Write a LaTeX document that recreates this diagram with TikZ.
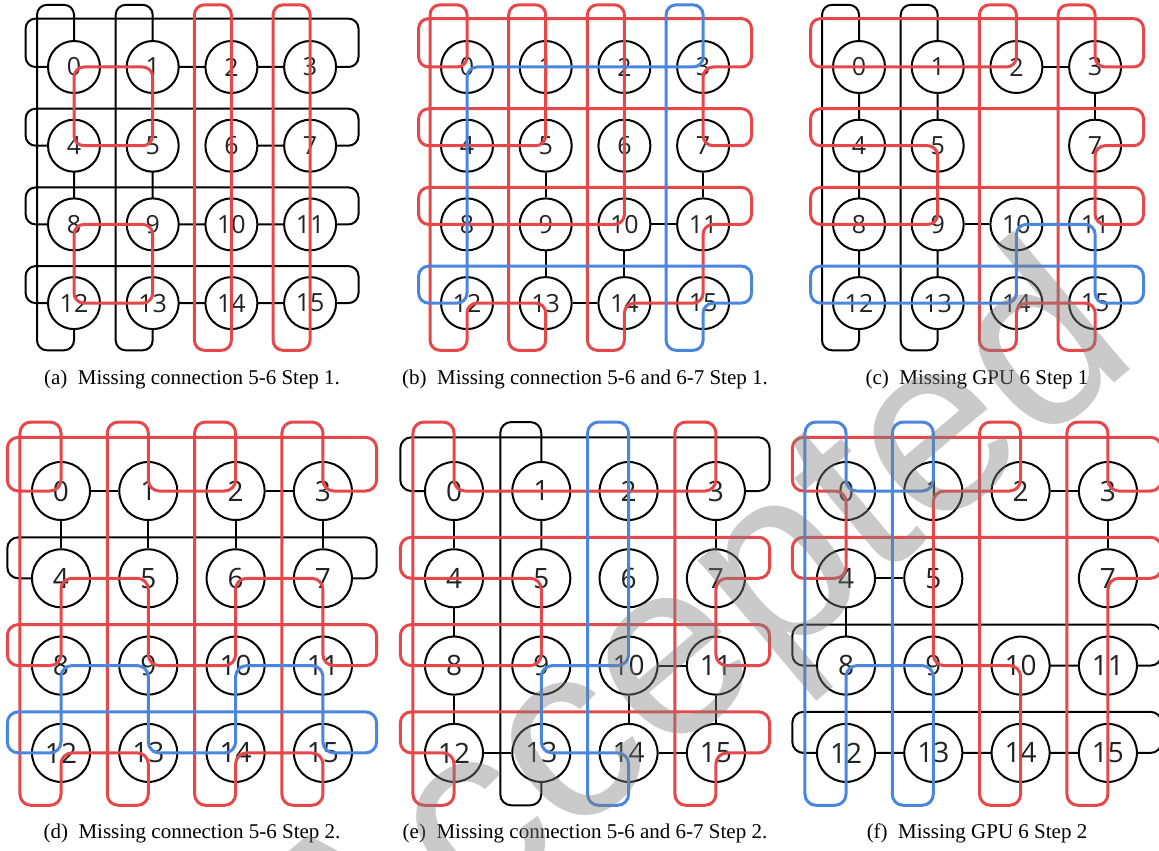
\documentclass[tikz,border=0pt]{standalone}
\usepackage{fontspec}
\setmainfont{Liberation Serif}
\newfontfamily\labfont{Open Sans}
\newfontfamily\wmfont{Liberation Sans}
\definecolor{ringred}{RGB}{230,72,74}
\definecolor{ringblue}{RGB}{74,134,222}
\definecolor{labgray}{RGB}{34,34,34}
\def\cT{-0.79}
\def\cB{3.6}
\def\cL{-0.615}
\def\cR{3.615}
\tikzset{
  gpu/.style={circle, draw=black, fill=white, line width=2pt, inner sep=0pt, text=labgray},
  gpusmall/.style={gpu, minimum size=52pt, font=\labfont\fontsize{25}{25}\selectfont},
  gpubig/.style={gpu, minimum size=58pt, font=\labfont\fontsize{28}{28}\selectfont},
  blk/.style={draw=black, line width=2pt},
  rr/.style={draw=ringred, line width=3pt},
  bb/.style={draw=ringblue, line width=3pt},
  captext/.style={font=\fontsize{21}{22}\selectfont, inner sep=0pt},
}
\begin{document}
\begin{tikzpicture}[x=1pt,y=-1pt]
\useasboundingbox (0,0) rectangle (1159,851);

% ---------------- (a)
\begin{scope}[shift={(74,67)},x=78.7pt,y=-78.7pt,rounded corners=10pt]
\draw[blk] (0,0) -- (0,\cT) -- (-0.47,\cT) -- (-0.47,\cB) -- (0,\cB) -- cycle;
\draw[blk] (1,0) -- (1,\cT) -- (0.53,\cT) -- (0.53,\cB) -- (1,\cB) -- cycle;
\draw[blk] (0,0) -- (\cL,0) -- (\cL,-0.615) -- (\cR,-0.615) -- (\cR,0) -- cycle;
\draw[blk] (1,1) -- (\cL,1) -- (\cL,0.53) -- (\cR,0.53) -- (\cR,1) -- (2,1);
\draw[blk] (0,2) -- (\cL,2) -- (\cL,1.53) -- (\cR,1.53) -- (\cR,2) -- cycle;
\draw[blk] (0,3) -- (\cL,3) -- (\cL,2.53) -- (\cR,2.53) -- (\cR,3) -- cycle;
\foreach \i in {0,...,15}{
  \pgfmathtruncatemacro\cc{mod(\i,4)}
  \pgfmathtruncatemacro\rw{div(\i,4)}
  \node[gpusmall] (a\i) at (\cc,\rw) {\i};
}
\draw[rr] (0.5,0) -- (1,0) -- (1,1) -- (0,1) -- (0,0) -- cycle;
\draw[rr] (0.5,2) -- (1,2) -- (1,3) -- (0,3) -- (0,2) -- cycle;
\draw[rr] (2,1.5) -- (2,\cB) -- (1.53,\cB) -- (1.53,\cT) -- (2,\cT) -- cycle;
\draw[rr] (3,1.5) -- (3,\cB) -- (2.53,\cB) -- (2.53,\cT) -- (3,\cT) -- cycle;
\end{scope}

% ---------------- (b)
\begin{scope}[shift={(467,67)},x=78.7pt,y=-78.7pt,rounded corners=10pt]
\foreach \i in {0,...,15}{
  \pgfmathtruncatemacro\cc{mod(\i,4)}
  \pgfmathtruncatemacro\rw{div(\i,4)}
  \node[gpusmall] (b\i) at (\cc,\rw) {\i};
}
\draw[blk] (b5) -- (b9);
\draw[blk] (b9) -- (b13);
\draw[blk] (b10) -- (b14);
\draw[blk] (b10) -- (b11);
\draw[blk] (b13) -- (b14);
\draw[blk] (b7) -- (b11);
\draw[rr] (1.5,-0.615) -- (\cR,-0.615) -- (\cR,0) -- (3,0) -- (3,1) -- (\cR,1) -- (\cR,0.53) -- (\cL,0.53) -- (\cL,1) -- (1,1) -- (1,\cT) -- (0.53,\cT) -- (0.53,\cB) -- (1,\cB) -- (1,3) -- (0,3) -- (0,\cB) -- (-0.47,\cB) -- (-0.47,\cT) -- (0,\cT) -- (0,0) -- (\cL,0) -- (\cL,-0.615) -- cycle;
\draw[rr] (1.53,1) -- (1.53,\cT) -- (2,\cT) -- (2,2) -- (\cL,2) -- (\cL,1.53) -- (\cR,1.53) -- (\cR,2) -- (3,2) -- (3,3) -- (2,3) -- (2,\cB) -- (1.53,\cB) -- cycle;
\draw[bb] (2.53,1) -- (2.53,\cT) -- (3,\cT) -- (3,0) -- (0,0) -- (0,3) -- (\cL,3) -- (\cL,2.53) -- (\cR,2.53) -- (\cR,3) -- (3,3) -- (3,\cB) -- (2.53,\cB) -- cycle;
\end{scope}

% ---------------- (c)
\begin{scope}[shift={(859,67)},x=78.7pt,y=-78.7pt,rounded corners=10pt]
\draw[blk] (0,0) -- (0,\cT) -- (-0.47,\cT) -- (-0.47,\cB) -- (0,\cB) -- cycle;
\draw[blk] (1,0) -- (1,\cT) -- (0.53,\cT) -- (0.53,\cB) -- (1,\cB) -- cycle;
\foreach \i in {0,1,2,3,4,5,7,8,9,10,11,12,13,14,15}{
  \pgfmathtruncatemacro\cc{mod(\i,4)}
  \pgfmathtruncatemacro\rw{div(\i,4)}
  \node[gpusmall] (c\i) at (\cc,\rw) {\i};
}
\draw[blk] (c2) -- (c3);
\draw[blk] (c3) -- (c7);
\draw[blk] (c9) -- (c10);
\draw[rr] (1,-0.615) -- (\cL,-0.615) -- (\cL,0) -- (2,0) -- (2,\cT) -- (1.53,\cT) -- (1.53,\cB) -- (2,\cB) -- (2,3) -- (3,3) -- (3,\cB) -- (2.53,\cB) -- (2.53,\cT) -- (3,\cT) -- (3,0) -- (\cR,0) -- (\cR,-0.615) -- cycle;
\draw[rr] (0,0.53) -- (\cL,0.53) -- (\cL,1) -- (1,1) -- (1,2) -- (\cL,2) -- (\cL,1.53) -- (\cR,1.53) -- (\cR,2) -- (3,2) -- (3,1) -- (\cR,1) -- (\cR,0.53) -- cycle;
\draw[bb] (0,2.53) -- (\cL,2.53) -- (\cL,3) -- (2,3) -- (2,2) -- (3,2) -- (3,3) -- (\cR,3) -- (\cR,2.53) -- cycle;
\end{scope}

% ---------------- (d)
\begin{scope}[shift={(61,491)},x=87.3pt,y=-87.3pt,rounded corners=11pt]
\draw[blk] (1,1) -- (\cL,1) -- (\cL,0.53) -- (\cR,0.53) -- (\cR,1) -- (2,1);
\foreach \i in {0,...,15}{
  \pgfmathtruncatemacro\cc{mod(\i,4)}
  \pgfmathtruncatemacro\rw{div(\i,4)}
  \node[gpubig] (d\i) at (\cc,\rw) {\i};
}
\draw[blk] (d0) -- (d1);
\draw[blk] (d2) -- (d3);
\draw[blk] (d0) -- (d4);
\draw[blk] (d1) -- (d5);
\draw[blk] (d2) -- (d6);
\draw[blk] (d3) -- (d7);
\draw[rr] (1.5,-0.615) -- (\cR,-0.615) -- (\cR,0) -- (3,0) -- (3,\cT) -- (2.53,\cT) -- (2.53,\cB) -- (3,\cB) -- (3,3) -- (2,3) -- (2,\cB) -- (1.53,\cB) -- (1.53,\cT) -- (2,\cT) -- (2,0) -- (1,0) -- (1,\cT) -- (0.53,\cT) -- (0.53,\cB) -- (1,\cB) -- (1,3) -- (0,3) -- (0,\cB) -- (-0.47,\cB) -- (-0.47,\cT) -- (0,\cT) -- (0,0) -- (\cL,0) -- (\cL,-0.615) -- cycle;
\draw[rr] (0.5,1) -- (1,1) -- (1,2) -- (2,2) -- (2,1) -- (3,1) -- (3,2) -- (\cR,2) -- (\cR,1.53) -- (\cL,1.53) -- (\cL,2) -- (0,2) -- (0,1) -- cycle;
\draw[bb] (0.5,2) -- (1,2) -- (1,3) -- (2,3) -- (2,2) -- (3,2) -- (3,3) -- (\cR,3) -- (\cR,2.53) -- (\cL,2.53) -- (\cL,3) -- (0,3) -- (0,2) -- cycle;
\end{scope}

% ---------------- (e)
\begin{scope}[shift={(454,491)},x=87.3pt,y=-87.3pt,rounded corners=11pt]
\draw[blk] (0,0) -- (\cL,0) -- (\cL,-0.615) -- (\cR,-0.615) -- (\cR,0) -- cycle;
\draw[blk] (1,0) -- (1,\cT) -- (0.53,\cT) -- (0.53,\cB) -- (1,\cB) -- cycle;
\foreach \i in {0,...,15}{
  \pgfmathtruncatemacro\cc{mod(\i,4)}
  \pgfmathtruncatemacro\rw{div(\i,4)}
  \node[gpubig] (e\i) at (\cc,\rw) {\i};
}
\draw[blk] (e0) -- (e4);
\draw[blk] (e4) -- (e8);
\draw[blk] (e8) -- (e12);
\draw[blk] (e3) -- (e7);
\draw[blk] (e10) -- (e11);
\draw[blk] (e10) -- (e14);
\draw[blk] (e11) -- (e15);
\draw[blk] (e12) -- (e13);
\draw[blk] (e14) -- (e15);
\draw[rr] (1.5,2.53) -- (\cL,2.53) -- (\cL,3) -- (0,3) -- (0,\cB) -- (-0.47,\cB) -- (-0.47,\cT) -- (0,\cT) -- (0,0) -- (3,0) -- (3,\cT) -- (2.53,\cT) -- (2.53,\cB) -- (3,\cB) -- (3,3) -- (\cR,3) -- (\cR,2.53) -- cycle;
\draw[rr] (0,0.53) -- (\cL,0.53) -- (\cL,1) -- (1,1) -- (1,2) -- (\cL,2) -- (\cL,1.53) -- (\cR,1.53) -- (\cR,2) -- (3,2) -- (3,1) -- (\cR,1) -- (\cR,0.53) -- cycle;
\draw[bb] (1.53,1) -- (1.53,\cT) -- (2,\cT) -- (2,2) -- (1,2) -- (1,3) -- (2,3) -- (2,\cB) -- (1.53,\cB) -- cycle;
\end{scope}

% ---------------- (f)
\begin{scope}[shift={(846,491)},x=87.3pt,y=-87.3pt,rounded corners=11pt]
\draw[blk] (0,2) -- (\cL,2) -- (\cL,1.53) -- (\cR,1.53) -- (\cR,2) -- cycle;
\draw[blk] (0,3) -- (\cL,3) -- (\cL,2.53) -- (\cR,2.53) -- (\cR,3) -- cycle;
\foreach \i in {0,1,2,3,4,5,7,8,9,10,11,12,13,14,15}{
  \pgfmathtruncatemacro\cc{mod(\i,4)}
  \pgfmathtruncatemacro\rw{div(\i,4)}
  \node[gpubig] (f\i) at (\cc,\rw) {\i};
}
\draw[blk] (f2) -- (f3);
\draw[blk] (f3) -- (f7);
\draw[blk] (f4) -- (f5);
\draw[blk] (f4) -- (f8);
\draw[rr] (1.5,-0.615) -- (\cL,-0.615) -- (\cL,0) -- (0,0) -- (0,1) -- (\cL,1) -- (\cL,0.53) -- (\cR,0.53) -- (\cR,1) -- (3,1) -- (3,\cB) -- (2.53,\cB) -- (2.53,\cT) -- (3,\cT) -- (3,0) -- (\cR,0) -- (\cR,-0.615) -- cycle;
\draw[rr] (1.53,1) -- (1.53,\cT) -- (2,\cT) -- (2,0) -- (1,0) -- (1,2) -- (2,2) -- (2,\cB) -- (1.53,\cB) -- cycle;
\draw[bb] (-0.47,1) -- (-0.47,\cT) -- (0,\cT) -- (0,0) -- (1,0) -- (1,\cT) -- (0.53,\cT) -- (0.53,\cB) -- (1,\cB) -- (1,2) -- (0,2) -- (0,\cB) -- (-0.47,\cB) -- cycle;
\end{scope}

% ---------------- captions
\node[captext] (capa) at (192,379) {(a)\hspace{0.5em}Missing connection 5-6 Step 1.};
\node[captext] (capb) at (585,379) {(b)\hspace{0.5em}Missing connection 5-6 and 6-7 Step 1.};
\node[captext] (capc) at (977,379) {(c)\hspace{0.5em}Missing GPU 6 Step 1};
\node[captext] (capd) at (192,833) {(d)\hspace{0.5em}Missing connection 5-6 Step 2.};
\node[captext] (cape) at (585,833) {(e)\hspace{0.5em}Missing connection 5-6 and 6-7 Step 2.};
\node[captext] (capf) at (977,833) {(f)\hspace{0.5em}Missing GPU 6 Step 2};

% ---------------- watermark
\node[rotate=40, text=black!50, opacity=0.42, font=\wmfont\fontsize{250}{250}\selectfont, inner sep=0pt] (wm) at (702,645) {Accepted};
\end{tikzpicture}
\end{document}
